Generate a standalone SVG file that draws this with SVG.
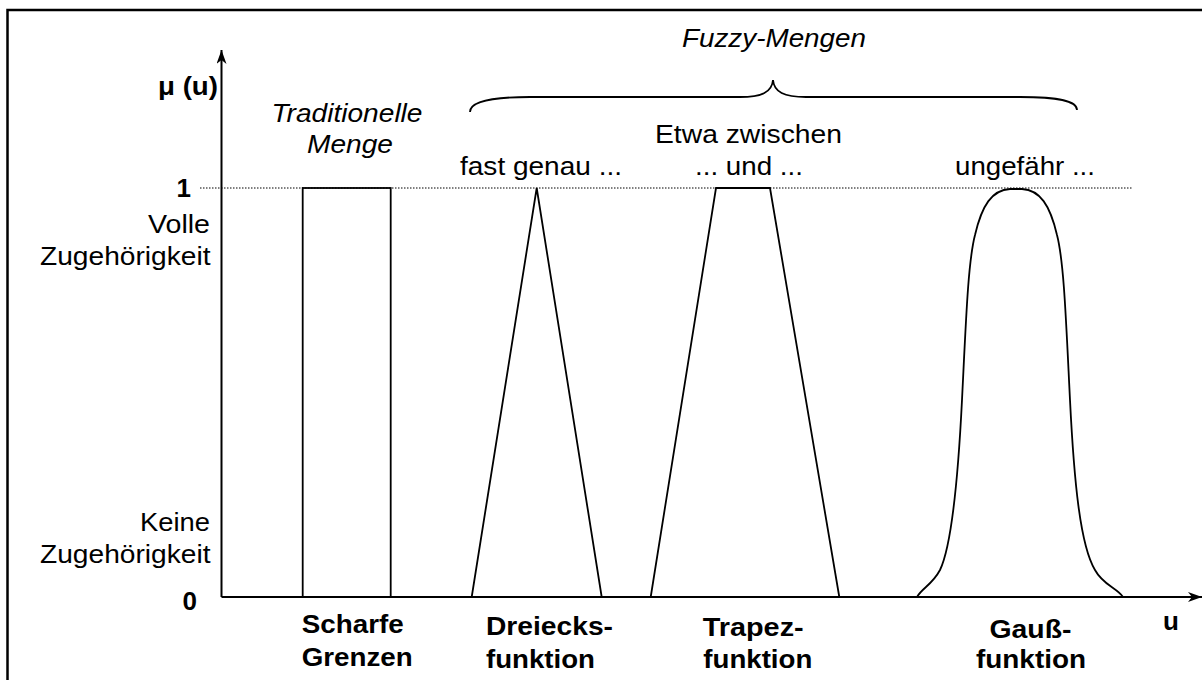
<svg xmlns="http://www.w3.org/2000/svg" width="1202" height="680" viewBox="0 0 1202 680">
  <defs>
    <marker id="arrow" markerUnits="userSpaceOnUse" viewBox="0 0 14 10" refX="14" refY="5" markerWidth="14" markerHeight="10" orient="auto">
      <path d="M0,0 L14,5 L0,10 L4,5 Z" fill="#000"/>
    </marker>
    <style>
      text { font-family: "Liberation Sans", Arial, sans-serif; font-size: 26px; fill: #000; }
      .b { font-weight: bold; }
      .i { font-style: italic; }
      .e { text-anchor: end; }
      .m { text-anchor: middle; }
      .axis { stroke: #000; stroke-width: 2; fill: none; }
      .shape { stroke: #000; stroke-width: 1.8; fill: none; stroke-linejoin: miter; }
      .dot { stroke: #000; stroke-width: 1; stroke-dasharray: 1.5 1.5; fill: none; }
    </style>
  </defs>
  <rect width="1202" height="680" fill="#fff"/>
  <path d="M7.5,680 V10 H1202" stroke="#000" stroke-width="2.5" fill="none"/>

  <g id="connectors">
    <line class="dot" x1="200" y1="188" x2="1132" y2="188"/>
    <line class="axis" x1="221.5" y1="597" x2="221.5" y2="50" marker-end="url(#arrow)"/>
    <line class="axis" x1="221.5" y1="597" x2="1202" y2="597" marker-end="url(#arrow)"/>
    <path class="shape" d="M470,112 C470,102 490,97 530,97 L740,97 C762,97 772,92 773,80 C774,92 784,97 806,97 L1020,97 C1060,97 1077,101 1077,110"/>
  </g>

  <g id="axis-labels">
    <text class="b e" x="218" y="95" textLength="60" lengthAdjust="spacingAndGlyphs">μ (u)</text>
    <text class="b e" x="191" y="197">1</text>
    <text class="e" x="210" y="233" textLength="62" lengthAdjust="spacingAndGlyphs">Volle</text>
    <text class="e" x="210.5" y="265" textLength="170.5" lengthAdjust="spacingAndGlyphs">Zugehörigkeit</text>
    <text class="e" x="210" y="531" textLength="70" lengthAdjust="spacingAndGlyphs">Keine</text>
    <text class="e" x="210.5" y="563" textLength="170.5" lengthAdjust="spacingAndGlyphs">Zugehörigkeit</text>
    <text class="b e" x="197" y="610">0</text>
    <text class="b" x="1163" y="630">u</text>
  </g>

  <g id="fuzzy-title">
    <text class="i m" x="774" y="47" textLength="184" lengthAdjust="spacingAndGlyphs">Fuzzy-Mengen</text>
  </g>

  <g id="traditional">
    <rect class="shape" x="302.7" y="188" width="88" height="409"/>
    <text class="i m" x="347" y="122" textLength="151" lengthAdjust="spacingAndGlyphs">Traditionelle</text>
    <text class="i m" x="350" y="153" textLength="86" lengthAdjust="spacingAndGlyphs">Menge</text>
    <text class="b" x="301.7" y="633" textLength="102" lengthAdjust="spacingAndGlyphs">Scharfe</text>
    <text class="b" x="301.7" y="666" textLength="111" lengthAdjust="spacingAndGlyphs">Grenzen</text>
  </g>

  <g id="triangle">
    <path class="shape" d="M471.7,597 L536.7,188 L601.7,597"/>
    <text class="m" x="541" y="175" textLength="162" lengthAdjust="spacingAndGlyphs">fast genau ...</text>
    <text class="b" x="486" y="635" textLength="127" lengthAdjust="spacingAndGlyphs">Dreiecks-</text>
    <text class="b" x="486" y="668" textLength="109" lengthAdjust="spacingAndGlyphs">funktion</text>
  </g>

  <g id="trapezoid">
    <path class="shape" d="M650.7,597 L716,188 L770,188 L839.3,597"/>
    <text class="m" x="748.5" y="143" textLength="187" lengthAdjust="spacingAndGlyphs">Etwa zwischen</text>
    <text class="m" x="749" y="175" textLength="108" lengthAdjust="spacingAndGlyphs">... und ...</text>
    <text class="b" x="702.7" y="636" textLength="101" lengthAdjust="spacingAndGlyphs">Trapez-</text>
    <text class="b" x="703.3" y="668" textLength="109" lengthAdjust="spacingAndGlyphs">funktion</text>
  </g>

  <g id="gauss">
    <path class="shape" d="M917,597 C922,588 932,585 940,570 C952,545 958,480 962,400 C966,320 968,262 975,235 C982,205 992,190 1010,189 L1022,189 C1040,190 1050,205 1057,235 C1064,262 1066,320 1070,400 C1074,480 1080,545 1095,570 C1103,585 1117,588 1123,597"/>
    <text class="m" x="1025" y="175" textLength="140" lengthAdjust="spacingAndGlyphs">ungefähr ...</text>
    <text class="b m" x="1030.5" y="638" textLength="82" lengthAdjust="spacingAndGlyphs">Gauß-</text>
    <text class="b m" x="1031" y="668" textLength="110" lengthAdjust="spacingAndGlyphs">funktion</text>
  </g>
</svg>
